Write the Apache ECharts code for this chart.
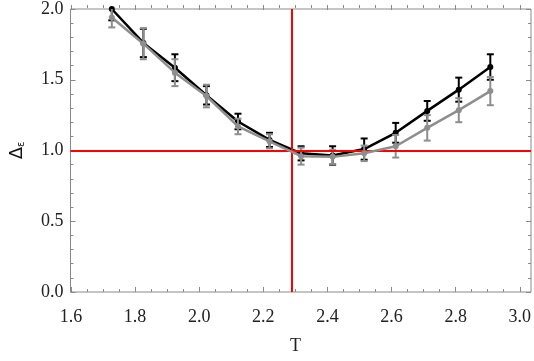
<!DOCTYPE html>
<html>
<head>
<meta charset="utf-8">
<script src="https://cdn.jsdelivr.net/npm/echarts@6/dist/echarts.min.js"></script>
<style>
  html, body { margin: 0; padding: 0; background: #fff; }
  #chart { width: 534px; height: 361px; }
</style>
</head>
<body>
<div id="chart"></div>
<script>
const temps = [1.7, 1.8, 1.9, 2.0, 2.1, 2.2, 2.3, 2.4, 2.5, 2.6, 2.7, 2.8, 2.9]
const blackVals = [2.00, 1.76, 1.585, 1.39, 1.205, 1.075, 0.98, 0.965, 1.01, 1.125, 1.28, 1.43, 1.59]
const blackErr = [0.08, 0.10, 0.095, 0.065, 0.055, 0.05, 0.05, 0.065, 0.075, 0.07, 0.07, 0.085, 0.09]
const grayVals = [1.94, 1.755, 1.55, 1.385, 1.17, 1.065, 0.96, 0.955, 0.98, 1.03, 1.16, 1.285, 1.42]
const grayErr = [0.07, 0.11, 0.095, 0.08, 0.055, 0.05, 0.06, 0.05, 0.055, 0.08, 0.09, 0.085, 0.1]
const xTicks = [1.6, 1.8, 2.0, 2.2, 2.4, 2.6, 2.8, 3.0]
const yTicks = [0.0, 0.5, 1.0, 1.5, 2.0]
const refY = 1.0
const refT = 2.269

const frameColor = '#8a8a8a'
const serif = 'Liberation Serif'

function pts(vals) {
  return temps.map((t, i) => [t, vals[i]])
}
function errRows(vals, errs) {
  return temps.map((t, i) => [t, vals[i] - errs[i], vals[i] + errs[i]])
}
function errorBars(color) {
  return function (params, api) {
    const x = api.value(0)
    const lo = api.coord([x, api.value(1)])
    const hi = api.coord([x, api.value(2)])
    const w = 3.5
    const style = { stroke: color, lineWidth: 2 }
    return {
      type: 'group',
      children: [
        { type: 'line', shape: { x1: lo[0], y1: lo[1], x2: hi[0], y2: hi[1] }, style },
        { type: 'line', shape: { x1: lo[0] - w, y1: lo[1], x2: lo[0] + w, y2: lo[1] }, style },
        { type: 'line', shape: { x1: hi[0] - w, y1: hi[1], x2: hi[0] + w, y2: hi[1] }, style }
      ]
    }
  }
}

const tickAxis = {
  axisLine: { show: false },
  axisTick: { show: true, inside: true, length: 5, lineStyle: { color: frameColor } },
  minorTick: { show: true, splitNumber: 4, length: 3, lineStyle: { color: frameColor } },
  splitLine: { show: false }
}

const chart = echarts.init(document.getElementById('chart'))
chart.setOption({
  animation: false,
  grid: [
    // frame + data area (x padded a little past 1.6 and 3.0)
    { left: 61, width: 470, top: 5, bottom: 69, show: true, borderColor: frameColor, borderWidth: 1, backgroundColor: 'transparent' },
    // tick/label area for the x axis, 1.6 .. 3.0
    { left: 71, right: 12.4, top: 5, bottom: 69 }
  ],
  xAxis: [
    { type: 'value', gridIndex: 0, min: 1.569, max: 3.029, show: false },
    Object.assign({}, tickAxis, {
      type: 'value', gridIndex: 1, position: 'bottom',
      min: xTicks[0], max: xTicks[xTicks.length - 1], interval: 0.2,
      axisLabel: { margin: 16, color: '#222', fontFamily: serif, fontSize: 18, formatter: v => v.toFixed(1) },
      name: 'T', nameLocation: 'middle', nameGap: 45,
      nameTextStyle: { color: '#222', fontFamily: serif, fontSize: 18 }
    }),
    Object.assign({}, tickAxis, {
      type: 'value', gridIndex: 1, position: 'top',
      min: xTicks[0], max: xTicks[xTicks.length - 1], interval: 0.2,
      axisLabel: { show: false }
    })
  ],
  yAxis: [
    Object.assign({}, tickAxis, {
      type: 'value', gridIndex: 0, position: 'left',
      min: yTicks[0], max: yTicks[yTicks.length - 1], interval: 0.5,
      minorTick: { show: true, splitNumber: 5, length: 3, lineStyle: { color: frameColor } },
      axisLabel: { margin: 7, color: '#222', fontFamily: serif, fontSize: 18, formatter: v => v.toFixed(1) },
      name: '{d|Δ}{s|ε}', nameLocation: 'middle', nameGap: 44, nameRotate: 90,
      nameTextStyle: {
        rich: {
          d: { fontFamily: 'DejaVu Sans', fontSize: 18, color: '#111' },
          s: { fontFamily: 'DejaVu Sans', fontSize: 10, color: '#111', padding: [9, 0, 0, 0] }
        }
      }
    }),
    Object.assign({}, tickAxis, {
      type: 'value', gridIndex: 0, position: 'right',
      min: yTicks[0], max: yTicks[yTicks.length - 1], interval: 0.5,
      minorTick: { show: true, splitNumber: 5, length: 3, lineStyle: { color: frameColor } },
      axisLabel: { show: false }
    }),
    { type: 'value', gridIndex: 1, min: 0, max: 2, show: false }
  ],
  series: [
    {
      type: 'custom', xAxisIndex: 0, yAxisIndex: 0, clip: true, z: 2,
      renderItem: errorBars('#000'), data: errRows(blackVals, blackErr)
    },
    {
      type: 'line', xAxisIndex: 0, yAxisIndex: 0, z: 3,
      data: pts(blackVals), symbol: 'circle', symbolSize: 6,
      lineStyle: { color: '#000', width: 2.5 }, itemStyle: { color: '#000' }
    },
    {
      type: 'custom', xAxisIndex: 0, yAxisIndex: 0, clip: true, z: 4,
      renderItem: errorBars('#8e8e8e'), data: errRows(grayVals, grayErr)
    },
    {
      type: 'line', xAxisIndex: 0, yAxisIndex: 0, z: 5,
      data: pts(grayVals), symbol: 'circle', symbolSize: 6,
      lineStyle: { color: '#8e8e8e', width: 2.5 }, itemStyle: { color: '#8e8e8e' }
    },
    {
      type: 'line', xAxisIndex: 0, yAxisIndex: 0, z: 10, data: [],
      markLine: {
        silent: true, symbol: 'none', animation: false,
        label: { show: false },
        lineStyle: { color: '#ff0000', width: 2, type: 'solid' },
        data: [{ yAxis: refY }, { xAxis: refT }]
      }
    }
  ]
})
</script>
</body>
</html>
